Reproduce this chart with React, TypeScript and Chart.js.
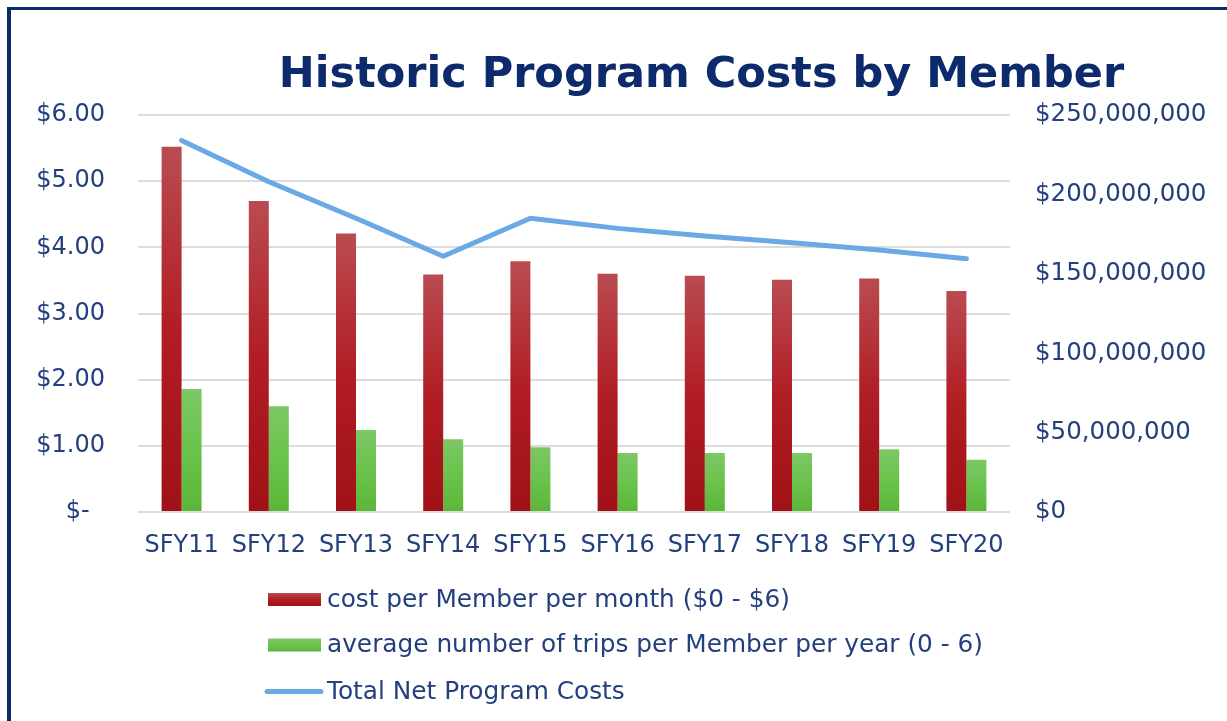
import React, { useEffect, useRef } from "react";
import { Chart, registerables } from "chart.js";

Chart.register(...registerables);

const categories = ["SFY11", "SFY12", "SFY13", "SFY14", "SFY15", "SFY16", "SFY17", "SFY18", "SFY19", "SFY20"];
const costPerMember = [5.52, 4.7, 4.21, 3.59, 3.79, 3.6, 3.57, 3.51, 3.53, 3.34];
const tripsPerMember = [1.86, 1.6, 1.24, 1.1, 0.98, 0.89, 0.89, 0.89, 0.95, 0.79];
const totalNetCosts = [234e6, 208e6, 185e6, 161e6, 185e6, 178.6e6, 173.8e6, 169.6e6, 165e6, 159.5e6];
const seriesLabels = [
  "cost per Member per month ($0 - $6)",
  "average number of trips per Member per year (0 - 6)",
  "Total Net Program Costs",
];
const titleText = "Historic Program Costs by Member";

const NAVY = "#0c2a6c";
const TICK = "#233f7d";
const FONT = "'DejaVu Sans', Verdana, sans-serif";

function barGradient(stops: [number, string][]) {
  return (ctx: any) => {
    const chart = ctx.chart;
    const yScale = chart.scales?.y;
    const v = ctx.raw;
    if (!yScale || typeof v !== "number") return stops[stops.length - 1][1];
    const top = yScale.getPixelForValue(v);
    const bottom = yScale.getPixelForValue(0);
    if (!isFinite(top) || !isFinite(bottom) || top === bottom) return stops[1][1];
    const g = chart.ctx.createLinearGradient(0, top, 0, bottom);
    stops.forEach(([o, c]) => g.addColorStop(o, c));
    return g;
  };
}

const redStops: [number, string][] = [
  [0, "#b94c51"],
  [0.5, "#b11d24"],
  [1, "#a01117"],
];
const greenStops: [number, string][] = [
  [0, "#7dc766"],
  [0.5, "#6ac34b"],
  [1, "#5ab638"],
];

const titlePlugin = {
  id: "customTitle",
  afterDraw(chart: any) {
    const c = chart.ctx;
    c.save();
    c.font = `bold 43px ${FONT}`;
    c.fillStyle = NAVY;
    c.textAlign = "center";
    c.textBaseline = "alphabetic";
    c.fillText(titleText, 701.5, 87);
    c.restore();
  },
};

const legendPlugin = {
  id: "customLegend",
  afterDraw(chart: any) {
    const c = chart.ctx;
    const rowsY = [599.5, 645, 691.5];
    c.save();
    c.font = `24.8px ${FONT}`;
    c.textBaseline = "middle";
    c.textAlign = "left";
    chart.data.datasets.forEach((ds: any, i: number) => {
      const y = rowsY[i];
      if (ds.type === "line") {
        c.strokeStyle = ds.borderColor;
        c.lineWidth = 5;
        c.lineCap = "round";
        c.beginPath();
        c.moveTo(267, y);
        c.lineTo(321, y);
        c.stroke();
      } else {
        const st = i === 0 ? redStops : greenStops;
        const g = c.createLinearGradient(0, y - 6.5, 0, y + 6.5);
        st.forEach(([o, col]) => g.addColorStop(o, col));
        c.fillStyle = g;
        c.fillRect(268, y - 6.5, 53, 13);
      }
      c.fillStyle = TICK;
      c.fillText(ds.label, 327, y + 1);
    });
    c.restore();
  },
};

export default function App() {
  const ref = useRef<HTMLCanvasElement | null>(null);

  useEffect(() => {
    if (!ref.current) return;
    const chart = new Chart(ref.current, {
      type: "bar",
      data: {
        labels: categories,
        datasets: [
          {
            type: "bar",
            label: seriesLabels[0],
            data: costPerMember,
            backgroundColor: barGradient(redStops),
            yAxisID: "y",
            categoryPercentage: 0.4587,
            barPercentage: 1,
            order: 2,
          },
          {
            type: "bar",
            label: seriesLabels[1],
            data: tripsPerMember,
            backgroundColor: barGradient(greenStops),
            yAxisID: "y",
            categoryPercentage: 0.4587,
            barPercentage: 1,
            order: 2,
          },
          {
            type: "line",
            label: seriesLabels[2],
            data: totalNetCosts,
            borderColor: "#6aa9e5",
            backgroundColor: "#6aa9e5",
            borderWidth: 5,
            pointRadius: 0,
            tension: 0,
            borderCapStyle: "round",
            borderJoinStyle: "round",
            yAxisID: "y1",
            order: 1,
          },
        ] as any,
      },
      options: {
        responsive: false,
        animation: false,
        devicePixelRatio: 1,
        layout: { padding: { top: 115, left: 0, right: 0, bottom: 0 } },
        plugins: {
          legend: { display: false },
          title: { display: false },
          tooltip: { enabled: false },
        },
        scales: {
          x: {
            offset: true,
            grid: { display: false, drawTicks: false },
            border: { display: false },
            ticks: {
              color: TICK,
              font: { family: FONT, size: 24 },
              padding: 19,
              maxRotation: 0,
              autoSkip: false,
            },
            afterFit(scale: any) {
              scale.height = 209;
            },
          },
          y: {
            position: "left",
            min: 0,
            max: 6,
            grid: { color: "#dcdcdc", lineWidth: 2, drawTicks: false },
            border: { display: false },
            ticks: {
              stepSize: 1,
              color: TICK,
              font: { family: FONT, size: 24 },
              padding: 33,
              callback: (v: any) => (Number(v) === 0 ? "$-\u2007" : "$" + Number(v).toFixed(2)),
            },
            afterFit(scale: any) {
              scale.width = 138;
            },
          },
          y1: {
            position: "right",
            min: 0,
            max: 250e6,
            grid: { display: false, drawTicks: false },
            border: { display: false },
            ticks: {
              stepSize: 50e6,
              color: TICK,
              font: { family: FONT, size: 24.5 },
              padding: 25,
              callback: (v: any) => "$" + Number(v).toLocaleString("en-US"),
            },
            afterFit(scale: any) {
              scale.width = 217;
            },
          },
        },
      } as any,
      plugins: [titlePlugin, legendPlugin],
    });
    return () => chart.destroy();
  }, []);

  return (
    <div
      style={{
        position: "absolute",
        left: 0,
        top: 0,
        width: 1227,
        height: 721,
        overflow: "hidden",
        background: "#ffffff",
      }}
    >
      <div
        style={{
          position: "absolute",
          left: 7,
          top: 7,
          width: 1400,
          height: 900,
          borderLeft: "4px solid " + NAVY,
          borderTop: "3px solid " + NAVY,
          boxSizing: "border-box",
        }}
      />
      <canvas ref={ref} width={1227} height={721} style={{ position: "absolute", left: 0, top: 0 }} />
    </div>
  );
}
